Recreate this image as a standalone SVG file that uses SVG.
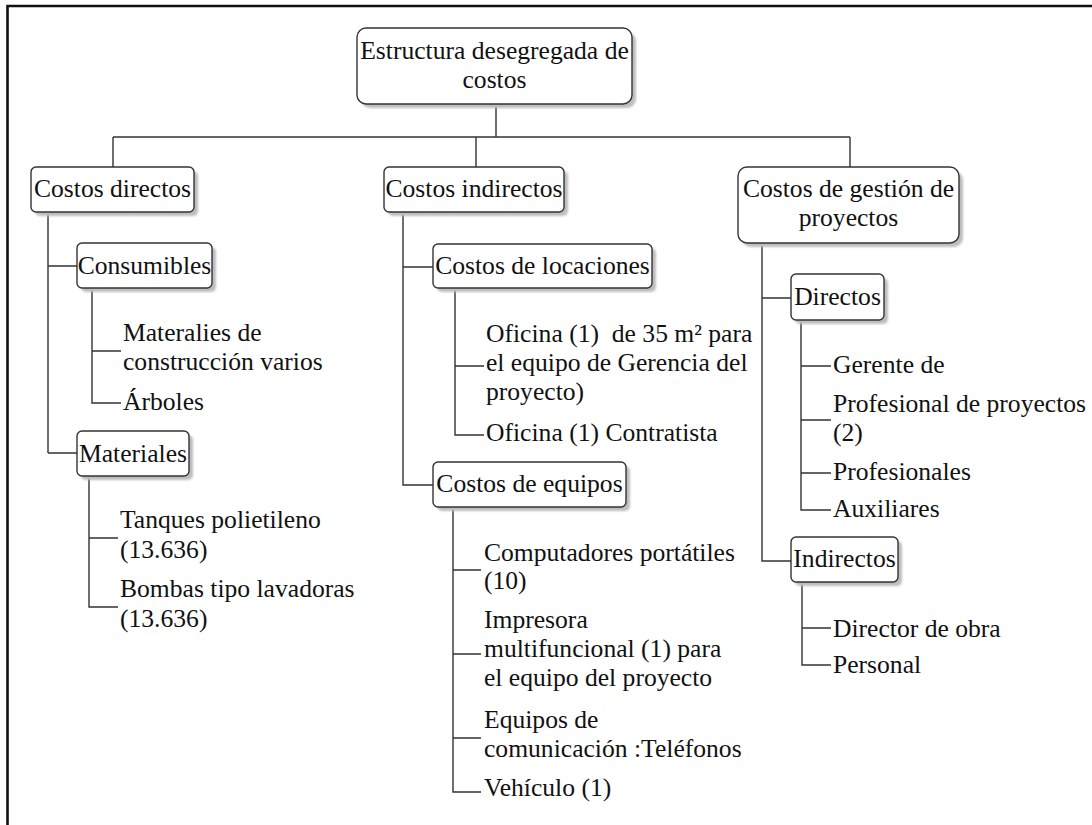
<svg xmlns="http://www.w3.org/2000/svg" width="1092" height="825" viewBox="0 0 1092 825">
  <style>
    text { font-family: "Liberation Serif", "Times New Roman", serif; font-size: 25.6px; fill: #111; }
    .c { text-anchor: middle; }
    .box { fill: #fff; stroke: #333; stroke-width: 1.4; }
    .shadow { fill: #bdbdbd; filter: url(#soft); }
    .link { fill: none; stroke: #333; stroke-width: 1.4; }
    .frame { fill: none; stroke: #111; stroke-width: 2.6; }
  </style>
  <defs>
    <filter id="soft" x="-10%" y="-10%" width="120%" height="130%">
      <feGaussianBlur stdDeviation="1"/>
    </filter>
  </defs>

  <rect width="1092" height="825" fill="#fff"/>
  <!-- page frame (top and left edges) -->
  <path class="frame" d="M7.5 825 V6 H1092"/>

  <!-- connectors -->
  <g id="connectors">
    <path class="link" d="M496 104 V137 M113 137 H850 M113 137 V167 M476 137 V167 M850 137 V167"/>
    <!-- Costos directos -->
    <path class="link" d="M48 212 V453 M48 266 H77 M48 453 H77"/>
    <path class="link" d="M92 288 V403 H121 M92 351 H121"/>
    <path class="link" d="M89 476 V607 H118 M89 538 H118"/>
    <!-- Costos indirectos -->
    <path class="link" d="M403 212 V485 H433 M403 267 H433"/>
    <path class="link" d="M455 288 V435 H484 M455 366 H484"/>
    <path class="link" d="M453 507 V792 H481 M453 570 H481 M453 654 H481 M453 738 H481"/>
    <!-- Costos de gestión de proyectos -->
    <path class="link" d="M762 243 V561 H791 M762 298 H791"/>
    <path class="link" d="M801 320 V510 H831 M801 366 H831 M801 420 H831 M801 473 H831"/>
    <path class="link" d="M802 582 V665 H831 M802 628 H831"/>
  </g>

  <!-- root -->
  <g id="root">
    <rect class="shadow" x="361" y="32" width="275" height="76" rx="9"/>
    <rect class="box" x="357" y="28" width="275" height="76" rx="9"/>
    <text class="c" x="494.5" y="59">Estructura desegregada de</text>
    <text class="c" x="494.5" y="88">costos</text>
  </g>

  <g id="costos-directos">
    <rect class="shadow" x="35" y="171" width="163" height="45" rx="5"/>
    <rect class="box" x="31" y="167" width="163" height="45" rx="5"/>
    <text class="c" x="112.5" y="197">Costos directos</text>
  </g>

  <g id="consumibles">
    <rect class="shadow" x="81" y="247" width="135" height="45" rx="5"/>
    <rect class="box" x="77" y="243" width="135" height="45" rx="5"/>
    <text class="c" x="144.5" y="274">Consumibles</text>
  </g>

  <g id="materiales-construccion">
    <text x="123" y="341">Materalies de</text>
    <text x="123" y="370">construcción varios</text>
  </g>

  <g id="arboles">
    <text x="123" y="410">Árboles</text>
  </g>

  <g id="materiales">
    <rect class="shadow" x="81" y="435" width="112" height="45" rx="5"/>
    <rect class="box" x="77" y="431" width="112" height="45" rx="5"/>
    <text class="c" x="133" y="462">Materiales</text>
  </g>

  <g id="tanques">
    <text x="120" y="528">Tanques polietileno</text>
    <text x="120" y="558">(13.636)</text>
  </g>

  <g id="bombas">
    <text x="120" y="597">Bombas tipo lavadoras</text>
    <text x="120" y="627">(13.636)</text>
  </g>

  <g id="costos-indirectos">
    <rect class="shadow" x="388" y="171" width="180" height="45" rx="5"/>
    <rect class="box" x="384" y="167" width="180" height="45" rx="5"/>
    <text class="c" x="474" y="197">Costos indirectos</text>
  </g>

  <g id="costos-locaciones">
    <rect class="shadow" x="437" y="248" width="219" height="44" rx="5"/>
    <rect class="box" x="433" y="244" width="219" height="44" rx="5"/>
    <text class="c" x="542.5" y="274">Costos de locaciones</text>
  </g>

  <g id="oficina-gerencia">
    <text x="486" y="342" xml:space="preserve">Oficina (1)  de 35 m² para</text>
    <text x="486" y="371">el equipo de Gerencia del</text>
    <text x="486" y="400">proyecto)</text>
  </g>

  <g id="oficina-contratista">
    <text x="486" y="441">Oficina (1) Contratista</text>
  </g>

  <g id="costos-equipos">
    <rect class="shadow" x="437" y="466" width="193" height="45" rx="5"/>
    <rect class="box" x="433" y="462" width="193" height="45" rx="5"/>
    <text class="c" x="529.5" y="492">Costos de equipos</text>
  </g>

  <g id="computadores">
    <text x="484" y="561">Computadores portátiles</text>
    <text x="484" y="589">(10)</text>
  </g>

  <g id="impresora">
    <text x="484" y="628">Impresora</text>
    <text x="484" y="657">multifuncional (1) para</text>
    <text x="484" y="686">el equipo del proyecto</text>
  </g>

  <g id="comunicacion">
    <text x="484" y="728">Equipos de</text>
    <text x="484" y="757">comunicación :Teléfonos</text>
  </g>

  <g id="vehiculo">
    <text x="484" y="796">Vehículo (1)</text>
  </g>

  <g id="costos-gestion">
    <rect class="shadow" x="742" y="171" width="221" height="76" rx="9"/>
    <rect class="box" x="738" y="167" width="221" height="76" rx="9"/>
    <text class="c" x="848.5" y="197">Costos de gestión de</text>
    <text class="c" x="848.5" y="226">proyectos</text>
  </g>

  <g id="directos">
    <rect class="shadow" x="795" y="278" width="93" height="46" rx="5"/>
    <rect class="box" x="791" y="274" width="93" height="46" rx="5"/>
    <text class="c" x="837.5" y="305">Directos</text>
  </g>

  <g id="gerente">
    <text x="833" y="373">Gerente de</text>
  </g>

  <g id="profesional-proyectos">
    <text x="833" y="412">Profesional de proyectos</text>
    <text x="833" y="441">(2)</text>
  </g>

  <g id="profesionales">
    <text x="833" y="480">Profesionales</text>
  </g>

  <g id="auxiliares">
    <text x="833" y="517">Auxiliares</text>
  </g>

  <g id="indirectos">
    <rect class="shadow" x="795" y="541" width="107" height="45" rx="5"/>
    <rect class="box" x="791" y="537" width="107" height="45" rx="5"/>
    <text class="c" x="844.5" y="567">Indirectos</text>
  </g>

  <g id="director-obra">
    <text x="833" y="637">Director de obra</text>
  </g>

  <g id="personal">
    <text x="833" y="673">Personal</text>
  </g>
</svg>
